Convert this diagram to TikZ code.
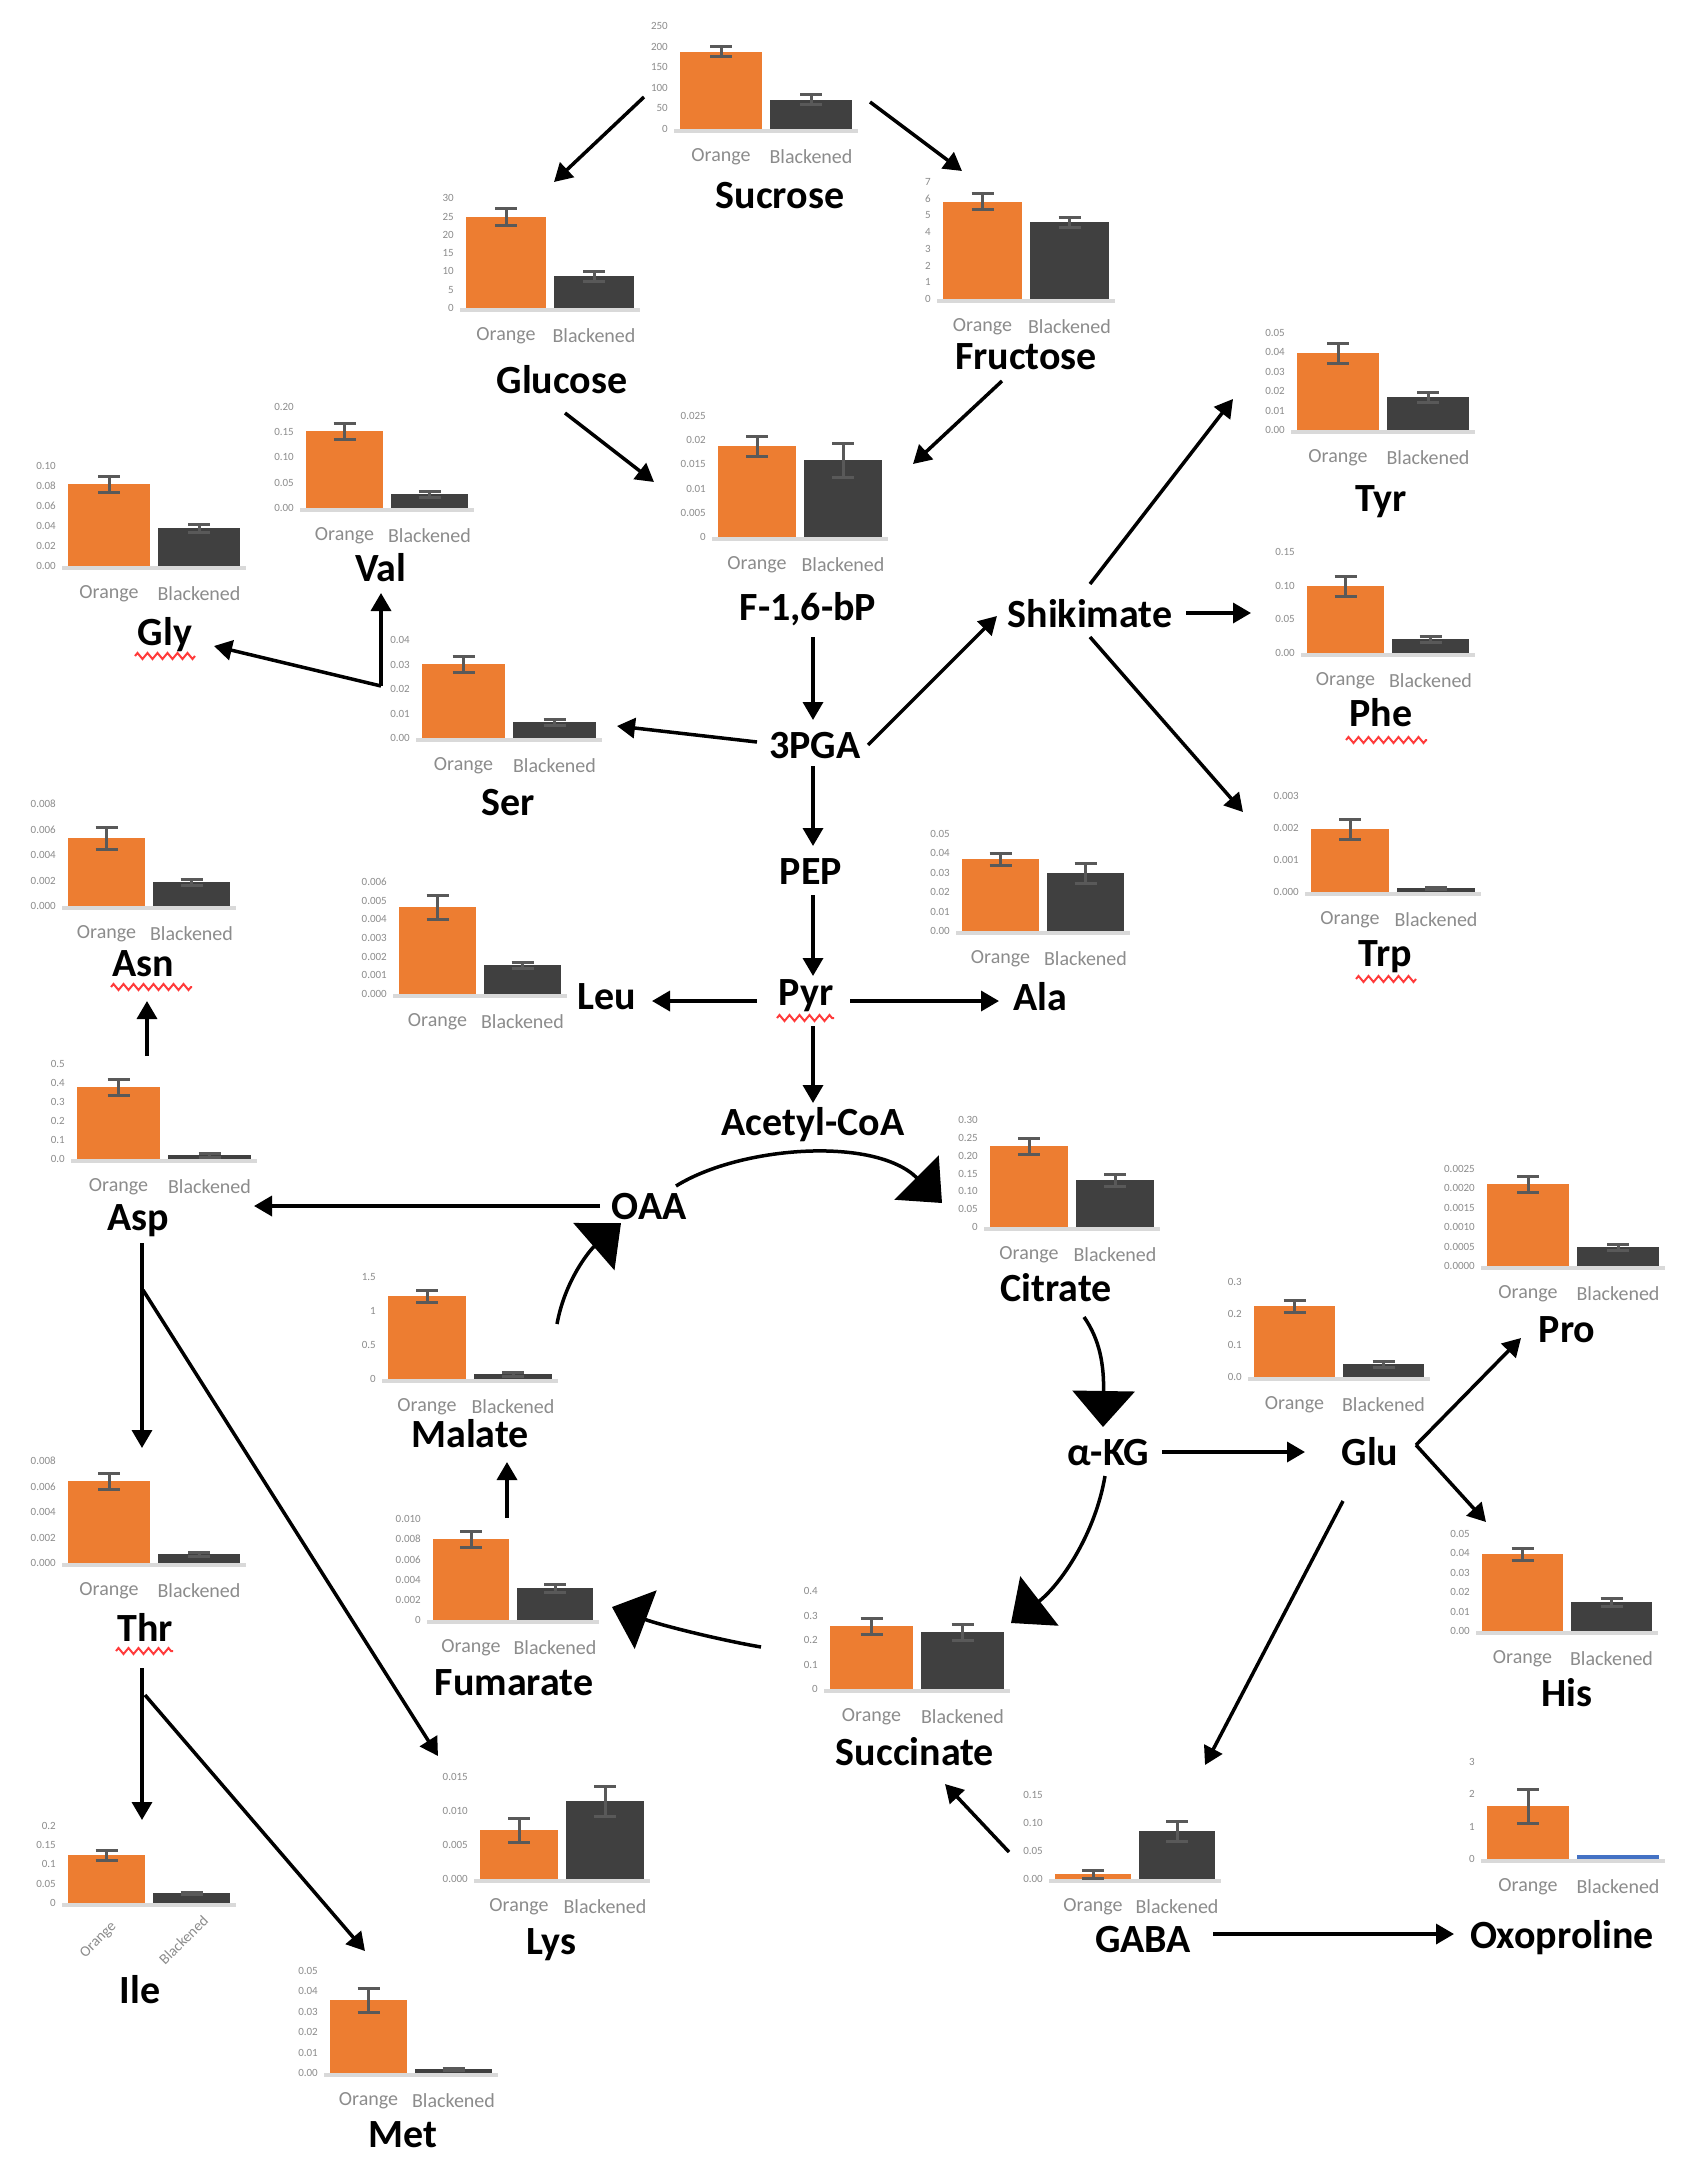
\documentclass[tikz,border=0pt]{standalone}
\usepackage{fontspec}
\setmainfont{Carlito}
\usetikzlibrary{arrows.meta,decorations.pathmorphing}
\definecolor{barO}{HTML}{ED7D31}
\definecolor{barD}{HTML}{404040}
\definecolor{barB}{HTML}{4472C4}
\definecolor{errc}{HTML}{595959}
\definecolor{axisc}{HTML}{D9D9D9}
\definecolor{tickc}{HTML}{8C8C8C}
\definecolor{wavyc}{HTML}{FF3B3B}
\tikzset{
  lab/.style={font=\fontsize{40}{44}\selectfont\bfseries, anchor=base, inner sep=0pt},
  tick/.style={font=\fontsize{11}{12}\selectfont, text=tickc, inner sep=0pt},
  cat/.style={font=\fontsize{20}{22}\selectfont, text=tickc, inner sep=0pt},
  errbar/.style={draw=errc, line width=3pt},
  axisline/.style={draw=axisc, line width=4pt},
  arr/.style={draw=black, line width=3.5pt, -{Triangle[length=18pt,width=20pt]}},
  bigarr/.style={draw=black, line width=3.5pt, -{Triangle[length=36pt,width=62pt]}},
  wavy/.style={draw=wavyc, line width=2pt, decorate, decoration={zigzag, segment length=10pt, amplitude=3pt}}
}
\newcounter{bc}
\def\dcol{barD}
\def\catrot{0}
\def\catdy{28}
\def\catdx{0}
% #1 xO, #2 w, #3 base, #4 topO, #5 eO, #6 topD, #7 eD, #8 tick spacing, #9 tick labels
\newcommand\barchart[9]{%
  \stepcounter{bc}%
  \pgfmathsetmacro\xD{#1+#2+8}%
  \pgfmathsetmacro\cO{#1+#2/2}%
  \pgfmathsetmacro\cD{\xD+#2/2}%
  \fill[barO] (#1,#3) rectangle ({#1+#2},#4);
  \fill[\dcol] (\xD,#3) rectangle ({\xD+#2},#6);
  \draw[axisline] ({#1-6},{#3+2}) -- ({\xD+#2+6},{#3+2});
  \ifdim #5pt>0pt
    \draw[errbar] ({\cO-11},{#4-#5}) -- ({\cO+11},{#4-#5})
      (\cO,{#4-#5}) -- (\cO,{#4+#5})
      ({\cO-11},{#4+#5}) -- ({\cO+11},{#4+#5});
  \fi
  \ifdim #7pt>0pt
    \draw[errbar] ({\cD-11},{#6-#7}) -- ({\cD+11},{#6-#7})
      (\cD,{#6-#7}) -- (\cD,{#6+#7})
      ({\cD-11},{#6+#7}) -- ({\cD+11},{#6+#7});
  \fi
  \foreach \t [count=\i from 0] in {#9}
    \node[tick, anchor=east] (c\thebc t\i) at ({#1-12},{#3-\i*#8}) {\t};
  \node[cat, rotate=\catrot] (c\thebc o) at ({\cO+\catdx},{#3+\catdy}) {Orange};
  \node[cat, rotate=\catrot] (c\thebc d) at ({\cD+\catdx},{#3+\catdy}) {Blackened};
}
\begin{document}
\begin{tikzpicture}[x=1pt, y=-1pt]
\useasboundingbox (0,0) rectangle (1696,2170);
\fill[white] (0,0) rectangle (1696,2170);

% ---------- charts ----------
\barchart{680}{82}{129}{52}{5}{100}{5}{20.6}{0,50,100,150,200,250}
\barchart{466}{80}{308}{217}{8}{276}{5}{18.3}{0,5,10,15,20,25,30}
\barchart{943}{79}{299}{202}{8}{222}{5}{16.7}{0,1,2,3,4,5,6,7}
\barchart{718}{78}{537}{446}{10}{460}{17}{24.2}{0,0.005,0.01,0.015,0.02,0.025}
\barchart{1297}{82}{430}{353}{10}{397}{5}{19.4}{0.00,0.01,0.02,0.03,0.04,0.05}
\barchart{306}{77}{508}{431}{8}{494}{3}{25.3}{0.00,0.05,0.10,0.15,0.20}
\barchart{68}{82}{566}{484}{8}{528}{4}{20}{0.00,0.02,0.04,0.06,0.08,0.10}
\barchart{422}{83}{738}{664}{8}{722}{3}{24.5}{0.00,0.01,0.02,0.03,0.04}
\barchart{1307}{77}{653}{586}{10}{639}{3}{33.7}{0.00,0.05,0.10,0.15}
\barchart{1311}{78}{892}{829}{10}{888}{1}{32}{0.000,0.001,0.002,0.003}
\barchart{399}{77}{994}{907}{12}{965}{3}{18.7}{0.000,0.001,0.002,0.003,0.004,0.005,0.006}
\barchart{962}{77}{931}{859}{6}{873}{10}{19.4}{0.00,0.01,0.02,0.03,0.04,0.05}
\barchart{68}{77}{906}{838}{11}{882}{3}{25.5}{0.000,0.002,0.004,0.006,0.008}
\barchart{77}{83}{1159}{1087}{8}{1155}{2}{19}{0.0,0.1,0.2,0.3,0.4,0.5}
\barchart{388}{78}{1379}{1296}{6}{1374}{2}{34}{0,0.5,1,1.5}
\barchart{990}{78}{1227}{1146}{8}{1180}{6}{17.8}{0,0.05,0.10,0.15,0.20,0.25,0.30}
\barchart{1254}{81}{1377}{1306}{6}{1364}{3}{31.7}{0.0,0.1,0.2,0.3}
\barchart{1487}{82}{1266}{1184}{8}{1247}{3}{19.4}{0.0000,0.0005,0.0010,0.0015,0.0020,0.0025}
\barchart{1482}{81}{1631}{1554}{6}{1602}{4}{19.4}{0.00,0.01,0.02,0.03,0.04,0.05}
\barchart{830}{83}{1689}{1626}{8}{1632}{8}{24.5}{0,0.1,0.2,0.3,0.4}
\barchart{433}{76}{1620}{1539}{8}{1588}{4}{20.2}{0,0.002,0.004,0.006,0.008,0.010}
\barchart{68}{82}{1563}{1481}{8}{1554}{2}{25.5}{0.000,0.002,0.004,0.006,0.008}
\begin{scope}
\def\catrot{45}\def\catdy{37}\def\catdx{-8}
\tikzset{cat/.append style={font=\fontsize{15}{17}\selectfont}}
\barchart{68}{77}{1903}{1855}{5}{1893}{1}{19.3}{0,0.05,0.1,0.15,0.2}
\end{scope}
\barchart{330}{77}{2073}{2000}{12}{2069}{1}{20.4}{0.00,0.01,0.02,0.03,0.04,0.05}
\barchart{480}{78}{1879}{1830}{12}{1801}{15}{34}{0.000,0.005,0.010,0.015}
\barchart{1055}{76}{1879}{1874}{4}{1831}{10}{28}{0.00,0.05,0.10,0.15}
\begin{scope}
\def\dcol{barB}
\barchart{1487}{82}{1859}{1806}{17}{1855}{0}{32.3}{0,1,2,3}
\end{scope}

% ---------- labels ----------
\node[lab] (suc) at (780,208) {Sucrose};
\node[lab] (glc) at (562,393) {Glucose};
\node[lab] (fru) at (1026,369) {Fructose};
\node[lab] (fbp) at (808,620) {F-1,6-bP};
\node[lab] (tyr) at (1381,511) {Tyr};
\node[lab] (val) at (381,581) {Val};
\node[lab] (gly) at (165,645) {Gly};
\node[lab] (ser) at (508,815) {Ser};
\node[lab] (pga) at (815,758) {3PGA};
\node[lab] (shk) at (1090,627) {Shikimate};
\node[lab] (phe) at (1381,726) {Phe};
\node[lab] (trp) at (1385,966) {Trp};
\node[lab] (pep) at (811,884) {PEP};
\node[lab] (pyr) at (806,1005) {Pyr};
\node[lab] (leu) at (607,1009) {Leu};
\node[lab] (ala) at (1040,1010) {Ala};
\node[lab] (acc) at (813,1135) {Acetyl-CoA};
\node[lab] (asn) at (143,976) {Asn};
\node[lab] (asp) at (138,1230) {Asp};
\node[lab] (oaa) at (649,1219) {OAA};
\node[lab] (mal) at (470,1447) {Malate};
\node[lab] (cit) at (1056,1301) {Citrate};
\node[lab] (akg) at (1108,1465) {α-KG};
\node[lab] (glu) at (1370,1465) {Glu};
\node[lab] (pro) at (1567,1342) {Pro};
\node[lab] (his) at (1567,1706) {His};
\node[lab] (scc) at (915,1765) {Succinate};
\node[lab] (fum) at (514,1695) {Fumarate};
\node[lab] (thr) at (145,1641) {Thr};
\node[lab] (ile) at (140,2003) {Ile};
\node[lab] (met) at (403,2147) {Met};
\node[lab] (lys) at (551,1954) {Lys};
\node[lab] (gaba) at (1143,1952) {GABA};
\node[lab] (oxo) at (1562,1948) {Oxoproline};

% ---------- spell-check underlines ----------
\coordinate (w1a) at (135,656);  \coordinate (w1b) at (195,656);
\coordinate (w2a) at (111,987);  \coordinate (w2b) at (192,987);
\coordinate (w3a) at (1346,740); \coordinate (w3b) at (1427,740);
\coordinate (w4a) at (1356,979); \coordinate (w4b) at (1416,979);
\coordinate (w5a) at (777,1018); \coordinate (w5b) at (834,1018);
\coordinate (w6a) at (116,1651); \coordinate (w6b) at (173,1651);
\foreach \k in {1,...,6} \draw[wavy] (w\k a) -- (w\k b);

% ---------- connector end points ----------
\coordinate (a1s) at (644,97);    \coordinate (a1e) at (554,182);
\coordinate (a2s) at (870,102);   \coordinate (a2e) at (962,171);
\coordinate (a3s) at (565,413);   \coordinate (a3e) at (654,482);
\coordinate (a4s) at (1002,381);  \coordinate (a4e) at (913,464);
\coordinate (a5s) at (813,637);   \coordinate (a5e) at (813,720);
\coordinate (a6s) at (757,742);   \coordinate (a6e) at (617,726);
\coordinate (jser) at (381,686);
\coordinate (a7e) at (381,593);
\coordinate (a8e) at (214,646);
\coordinate (a9s) at (868,745);   \coordinate (a9e) at (997,616);
\coordinate (a10s) at (1090,584); \coordinate (a10e) at (1233,399);
\coordinate (a11s) at (1186,613); \coordinate (a11e) at (1251,613);
\coordinate (a12s) at (1090,637); \coordinate (a12e) at (1243,812);
\coordinate (a13s) at (813,766);  \coordinate (a13e) at (813,846);
\coordinate (a14s) at (813,895);  \coordinate (a14e) at (813,976);
\coordinate (a15s) at (757,1001); \coordinate (a15e) at (652,1001);
\coordinate (a16s) at (850,1001); \coordinate (a16e) at (999,1001);
\coordinate (a17s) at (813,1026); \coordinate (a17e) at (813,1103);
\coordinate (a18s) at (600,1206); \coordinate (a18e) at (254,1206);
\coordinate (a19s) at (147,1056); \coordinate (a19e) at (147,1001);
\coordinate (a20s) at (142,1243); \coordinate (a20e) at (142,1448);
\coordinate (a21s) at (143,1290); \coordinate (a21e) at (438,1756);
\coordinate (a22s) at (142,1668); \coordinate (a22e) at (142,1820);
\coordinate (a23s) at (145,1695); \coordinate (a23e) at (365,1951);
\coordinate (a24s) at (507,1518); \coordinate (a24e) at (507,1462);
\coordinate (a25s) at (1162,1452);\coordinate (a25e) at (1305,1452);
\coordinate (jglu) at (1416,1445);
\coordinate (a26e) at (1521,1338);
\coordinate (a27e) at (1486,1522);
\coordinate (a28s) at (1343,1501);\coordinate (a28e) at (1205,1765);
\coordinate (a29s) at (1009,1852);\coordinate (a29e) at (945,1784);
\coordinate (a30s) at (1213,1934);\coordinate (a30e) at (1454,1934);
% TCA cycle
\coordinate (b1s) at (676,1186);  \coordinate (b1e) at (942,1203);
\coordinate (b2s) at (1084,1317); \coordinate (b2e) at (1103,1427);
\coordinate (b3s) at (1105,1476); \coordinate (b3e) at (1011,1623);
\coordinate (b4s) at (761,1647);  \coordinate (b4e) at (612,1607);
\coordinate (b5s) at (557,1324);  \coordinate (b5e) at (621,1223);

% ---------- connectors ----------
\draw[arr] (a1s) -- (a1e);
\draw[arr] (a2s) -- (a2e);
\draw[arr] (a3s) -- (a3e);
\draw[arr] (a4s) -- (a4e);
\draw[arr] (a5s) -- (a5e);
\draw[arr] (a6s) -- (a6e);
\draw[arr] (jser) -- (a7e);
\draw[arr] (jser) -- (a8e);
\draw[arr] (a9s) -- (a9e);
\draw[arr] (a10s) -- (a10e);
\draw[arr] (a11s) -- (a11e);
\draw[arr] (a12s) -- (a12e);
\draw[arr] (a13s) -- (a13e);
\draw[arr] (a14s) -- (a14e);
\draw[arr] (a15s) -- (a15e);
\draw[arr] (a16s) -- (a16e);
\draw[arr] (a17s) -- (a17e);
\draw[arr] (a18s) -- (a18e);
\draw[arr] (a19s) -- (a19e);
\draw[arr] (a20s) -- (a20e);
\draw[arr] (a21s) -- (a21e);
\draw[arr] (a22s) -- (a22e);
\draw[arr] (a23s) -- (a23e);
\draw[arr] (a24s) -- (a24e);
\draw[arr] (a25s) -- (a25e);
\draw[arr] (jglu) -- (a26e);
\draw[arr] (jglu) -- (a27e);
\draw[arr] (a28s) -- (a28e);
\draw[arr] (a29s) -- (a29e);
\draw[arr] (a30s) -- (a30e);

\draw[bigarr] (b1s) .. controls (740,1146) and (875,1136) .. (b1e);
\draw[bigarr] (b2s) .. controls (1100,1340) and (1104,1365) .. (b2e);
\draw[bigarr] (b3s) .. controls (1095,1535) and (1060,1585) .. (b3e);
\draw[bigarr] (b4s) .. controls (720,1640) and (660,1625) .. (b4e);
\draw[bigarr] (b5s) .. controls (565,1280) and (590,1250) .. (b5e);
\end{tikzpicture}
\end{document}
